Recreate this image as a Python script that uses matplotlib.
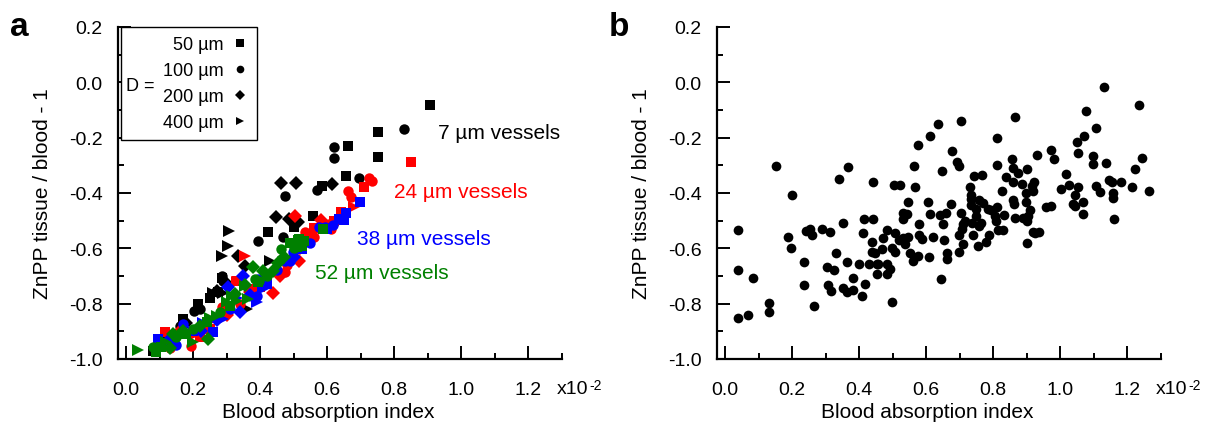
import matplotlib
matplotlib.use("Agg")
import matplotlib.pyplot as plt
from matplotlib.ticker import FixedLocator
from matplotlib.lines import Line2D
from matplotlib.patches import Rectangle

plt.rcParams['font.family'] = ['Liberation Sans', 'DejaVu Sans']

# ---------------- Panel a data (x in units of 1e-2) ----------------
# 7 um vessels (black)
v7_x = [0.906, 0.753, 0.751, 0.661, 0.655, 0.585, 0.558, 0.500, 0.425, 0.287, 0.275, 0.215, 0.170, 0.120, 0.080, 0.250,
        0.830, 0.621, 0.621, 0.695, 0.473, 0.570, 0.467, 0.395, 0.285, 0.290, 0.202, 0.100, 0.220, 0.160,
        0.462, 0.507, 0.615, 0.447, 0.485, 0.513, 0.333, 0.355, 0.270, 0.180, 0.300,
        0.307, 0.303, 0.287, 0.430, 0.362, 0.290, 0.140, 0.260]
v7_y = [-0.081, -0.179, -0.271, -0.231, -0.338, -0.374, -0.482, -0.522, -0.542, -0.708, -0.759, -0.801, -0.855, -0.920, -0.970, -0.780,
        -0.169, -0.235, -0.275, -0.347, -0.410, -0.389, -0.560, -0.572, -0.699, -0.717, -0.825, -0.950, -0.820, -0.880,
        -0.365, -0.363, -0.368, -0.488, -0.494, -0.506, -0.629, -0.663, -0.753, -0.870, -0.730,
        -0.538, -0.593, -0.629, -0.645, -0.819, -0.760, -0.930, -0.760]
v7_D = [50] * 16 + [100] * 14 + [200] * 11 + [400] * 8

# 24 um vessels (red)
v24_x = [0.850, 0.710, 0.560, 0.540, 0.640, 0.330, 0.375, 0.115, 0.220, 0.250, 0.400, 0.620,
         0.725, 0.733, 0.663, 0.671, 0.613, 0.473, 0.535, 0.605, 0.285, 0.195, 0.130, 0.340, 0.480, 0.560,
         0.503, 0.583, 0.515, 0.437, 0.370, 0.160, 0.090, 0.300, 0.460, 0.520,
         0.355, 0.330, 0.260, 0.120, 0.210, 0.680]
v24_y = [-0.287, -0.379, -0.527, -0.554, -0.470, -0.717, -0.747, -0.904, -0.922, -0.890, -0.740, -0.500,
         -0.346, -0.358, -0.394, -0.413, -0.530, -0.687, -0.542, -0.512, -0.813, -0.952, -0.960, -0.800, -0.660, -0.560,
         -0.484, -0.498, -0.645, -0.763, -0.759, -0.900, -0.960, -0.840, -0.700, -0.600,
         -0.629, -0.723, -0.860, -0.950, -0.910, -0.450]
v24_D = [50] * 12 + [100] * 14 + [200] * 10 + [400] * 6

# 38 um vessels (blue)
v38_x = [0.697, 0.657, 0.650, 0.635, 0.525, 0.095, 0.260, 0.200, 0.420, 0.600,
         0.617, 0.575, 0.595, 0.497, 0.490, 0.475, 0.390, 0.395, 0.170, 0.150, 0.110, 0.310, 0.450, 0.550,
         0.350, 0.305, 0.225, 0.125, 0.340, 0.270, 0.370, 0.500,
         0.290, 0.390, 0.410, 0.180, 0.230, 0.330]
v38_y = [-0.434, -0.473, -0.498, -0.494, -0.602, -0.928, -0.904, -0.900, -0.730, -0.530,
         -0.515, -0.524, -0.524, -0.614, -0.645, -0.645, -0.771, -0.711, -0.874, -0.950, -0.950, -0.820, -0.680, -0.580,
         -0.699, -0.741, -0.898, -0.934, -0.831, -0.860, -0.770, -0.630,
         -0.855, -0.795, -0.747, -0.900, -0.870, -0.780]
v38_D = [50] * 10 + [100] * 14 + [200] * 8 + [400] * 6

# 52 um vessels (green)
v52_x = [0.587, 0.513, 0.530, 0.515, 0.525, 0.510, 0.395, 0.105, 0.240, 0.090, 0.180, 0.310, 0.490,
         0.463, 0.397, 0.385, 0.200, 0.080, 0.150, 0.280, 0.420, 0.500,
         0.453, 0.437, 0.410, 0.380, 0.355, 0.140, 0.170, 0.245, 0.325, 0.130, 0.220, 0.470,
         0.315, 0.365, 0.035, 0.270, 0.300, 0.355, 0.200, 0.120, 0.250, 0.330]
v52_y = [-0.530, -0.570, -0.572, -0.566, -0.590, -0.596, -0.723, -0.958, -0.867, -0.975, -0.910, -0.810, -0.580,
         -0.602, -0.717, -0.711, -0.892, -0.958, -0.920, -0.830, -0.700, -0.600,
         -0.653, -0.681, -0.681, -0.669, -0.733, -0.910, -0.898, -0.928, -0.765, -0.960, -0.880, -0.630,
         -0.771, -0.783, -0.966, -0.844, -0.795, -0.735, -0.940, -0.940, -0.850, -0.790]
v52_D = [50] * 13 + [100] * 9 + [200] * 12 + [400] * 10

vessel_labels = ["7 µm vessels", "24 µm vessels", "38 µm vessels", "52 µm vessels"]
D_values = [50, 100, 200, 400]
D_labels = ["50 µm", "100 µm", "200 µm", "400 µm"]

# ---------------- Panel b data ----------------
b_x = [0.040, 0.040, 0.040, 0.067, 0.083, 0.132, 0.132, 0.151, 0.187, 0.196, 0.199, 0.236, 0.236, 0.242,
       0.253, 0.260, 0.265, 0.290, 0.303, 0.306, 0.313, 0.315, 0.325, 0.331, 0.341, 0.351, 0.351, 0.363,
       0.363, 0.367, 0.381, 0.383, 0.401, 0.408, 0.411, 0.416, 0.417, 0.429, 0.437, 0.440, 0.440, 0.437,
       0.447, 0.452, 0.452, 0.457, 0.467, 0.470, 0.482, 0.482, 0.482, 0.492, 0.498, 0.498, 0.504, 0.507,
       0.507, 0.520, 0.522, 0.532, 0.532, 0.532, 0.537, 0.542, 0.547, 0.547, 0.552, 0.562, 0.564, 0.567,
       0.575, 0.577, 0.578, 0.580, 0.587, 0.607, 0.609, 0.611, 0.611, 0.621, 0.636, 0.641, 0.645, 0.647,
       0.651, 0.653, 0.659, 0.661, 0.663, 0.673, 0.677, 0.691, 0.699, 0.697, 0.697, 0.703, 0.704, 0.706,
       0.711, 0.711, 0.716, 0.731, 0.733, 0.735, 0.735, 0.738, 0.741, 0.743, 0.748, 0.750, 0.755, 0.758,
       0.758, 0.765, 0.768, 0.770, 0.780, 0.785, 0.788, 0.795, 0.805, 0.808, 0.810, 0.810, 0.810, 0.815,
       0.827, 0.830, 0.832, 0.838, 0.857, 0.858, 0.860, 0.860, 0.862, 0.865, 0.865, 0.875, 0.885, 0.888,
       0.898, 0.898, 0.900, 0.900, 0.902, 0.905, 0.910, 0.915, 0.918, 0.920, 0.922, 0.925, 0.932, 0.937,
       0.958, 0.972, 0.974, 0.981, 1.001, 1.016, 1.027, 1.039, 1.044, 1.044, 1.049, 1.052, 1.054, 1.067,
       1.069, 1.071, 1.076, 1.099, 1.099, 1.106, 1.106, 1.120, 1.131, 1.136, 1.146, 1.156, 1.158, 1.158,
       1.161, 1.183, 1.215, 1.222, 1.235, 1.245, 1.265]
b_y = [-0.535, -0.679, -0.851, -0.842, -0.709, -0.797, -0.830, -0.301, -0.558, -0.599, -0.408, -0.650, -0.734, -0.537,
       -0.531, -0.550, -0.810, -0.531, -0.668, -0.733, -0.542, -0.755, -0.680, -0.616, -0.350, -0.507, -0.745, -0.650,
       -0.758, -0.307, -0.709, -0.751, -0.658, -0.773, -0.543, -0.493, -0.728, -0.658, -0.576, -0.360, -0.493, -0.614,
       -0.618, -0.658, -0.691, -0.656, -0.604, -0.562, -0.535, -0.694, -0.656, -0.676, -0.795, -0.598, -0.372, -0.543,
       -0.614, -0.570, -0.372, -0.562, -0.495, -0.473, -0.585, -0.475, -0.558, -0.432, -0.616, -0.646, -0.301, -0.377,
       -0.628, -0.227, -0.511, -0.552, -0.568, -0.432, -0.632, -0.477, -0.193, -0.558, -0.151, -0.481, -0.710, -0.320,
       -0.513, -0.570, -0.473, -0.616, -0.638, -0.441, -0.248, -0.287, -0.302, -0.614, -0.550, -0.471, -0.139, -0.529,
       -0.585, -0.513, -0.501, -0.377, -0.408, -0.423, -0.444, -0.510, -0.550, -0.338, -0.459, -0.483, -0.592, -0.426,
       -0.519, -0.510, -0.336, -0.435, -0.577, -0.459, -0.552, -0.462, -0.483, -0.501, -0.203, -0.300, -0.451, -0.534,
       -0.393, -0.534, -0.481, -0.341, -0.278, -0.360, -0.311, -0.426, -0.440, -0.124, -0.492, -0.326, -0.368, -0.492,
       -0.401, -0.432, -0.314, -0.501, -0.580, -0.483, -0.462, -0.374, -0.541, -0.393, -0.362, -0.543, -0.263, -0.541,
       -0.449, -0.447, -0.244, -0.278, -0.386, -0.333, -0.372, -0.441, -0.408, -0.447, -0.215, -0.257, -0.380, -0.432,
       -0.477, -0.193, -0.105, -0.268, -0.296, -0.165, -0.374, -0.396, -0.018, -0.293, -0.354, -0.360, -0.401, -0.417,
       -0.495, -0.359, -0.380, -0.312, -0.082, -0.275, -0.393]

x_major = [0.0, 0.2, 0.4, 0.6, 0.8, 1.0, 1.2]
x_labels = ["0.0", "0.2", "0.4", "0.6", "0.8", "1.0", "1.2"]
y_major = [-1.0, -0.8, -0.6, -0.4, -0.2, 0.0, 0.2]
y_labels = ["-1.0", "-0.8", "-0.6", "-0.4", "-0.2", "0.0", "0.2"]

# ---------------- Figure ----------------
W, H = 1207, 427
fig = plt.figure(figsize=(W / 100, H / 100), dpi=100)

ax_a = fig.add_axes([117.7 / W, 1 - 360 / H, 444 / W, 332 / H])
ax_b = fig.add_axes([716.7 / W, 1 - 360 / H, 444 / W, 332 / H])

TICK_FS = 14
LAB_FS = 15
LEG_FS = 13


def style_axes(ax):
    ax.set_xlim(-0.025, 1.30)
    ax.set_ylim(-1.0, 0.2)
    for s in ['top', 'right']:
        ax.spines[s].set_visible(False)
    for s in ['left', 'bottom']:
        ax.spines[s].set_linewidth(1.6)
    ax.xaxis.set_major_locator(FixedLocator(x_major))
    ax.set_xticklabels(x_labels)
    ax.xaxis.set_minor_locator(FixedLocator([0.1, 0.3, 0.5, 0.7, 0.9, 1.1, 1.3]))
    ax.yaxis.set_major_locator(FixedLocator(y_major))
    ax.set_yticklabels(y_labels)
    ax.yaxis.set_minor_locator(FixedLocator([-0.9, -0.7, -0.5, -0.3, -0.1, 0.1]))
    ax.tick_params(which='major', direction='in', length=9.5, width=1.4, labelsize=TICK_FS)
    ax.tick_params(axis='x', which='major', pad=16)
    ax.tick_params(axis='y', which='major', pad=11)
    ax.tick_params(which='minor', direction='in', length=4.5, width=1.4)
    ax.set_xlabel("Blood absorption index", fontsize=LAB_FS)
    ax.set_ylabel("ZnPP tissue / blood - 1", fontsize=LAB_FS)
    ax.xaxis.set_label_coords(0.475, -0.158)
    ax.xaxis.label.set_va('center')
    ax.yaxis.set_label_coords(-0.169, 0.5)
    ax.yaxis.label.set_va('center')
    t = ax.text(0.989, -0.09, "x10", transform=ax.transAxes, fontsize=TICK_FS,
                ha='left', va='center')
    ax.annotate("-2", xy=(1.0, 1.0), xycoords=t, xytext=(0.5, -3), textcoords='offset points',
                fontsize=10, ha='left', va='center')
    ax.patch.set_alpha(0)


style_axes(ax_a)
style_axes(ax_b)

marker_for = {50: 's', 100: 'o', 200: 'D', 400: '>'}
size_for = {50: 6.8, 100: 7.5, 200: 7.3, 400: 8.0}

groups = [(v7_x, v7_y, v7_D, 'black'),
          (v24_x, v24_y, v24_D, '#ff0000'),
          (v38_x, v38_y, v38_D, '#0000ff'),
          (v52_x, v52_y, v52_D, '#008000')]
for gx, gy, gD, col in groups:
    for d in D_values:
        xs = [x for x, dd in zip(gx, gD) if dd == d]
        ys = [y for y, dd in zip(gy, gD) if dd == d]
        ax_a.plot(xs, ys, linestyle='none', marker=marker_for[d], markersize=size_for[d],
                  color=col, markeredgewidth=0, clip_on=False)

# vessel annotations
ann_pos = [(0.93, -0.18), (0.80, -0.396), (0.69, -0.566), (0.564, -0.686)]
for (tx, ty), lab, (_, _, _, col) in zip(ann_pos, vessel_labels, groups):
    ax_a.text(tx, ty, lab, color=col, fontsize=LAB_FS, ha='left', va='center')

# legend: frame drawn as a box, entries right-aligned, "D =" to the left
box = Rectangle((0.007, 0.66), 0.306, 0.34, transform=ax_a.transAxes, fill=True,
                facecolor='white', edgecolor='black', linewidth=1.0, zorder=4, clip_on=False)
ax_a.add_patch(box)
handles = [Line2D([], [], linestyle='none', marker=marker_for[d], color='black',
                  markersize=5.5, markeredgewidth=0) for d in D_values]
leg = ax_a.legend(handles, D_labels, loc='upper right', bbox_to_anchor=(0.313, 1.0),
                  borderaxespad=0, markerfirst=False, fontsize=LEG_FS, frameon=False,
                  handlelength=0.85, handletextpad=0.46, labelspacing=0.5, borderpad=0.5)
leg.set_zorder(6)
ax_a.text(0.019, 0.825, "D =", transform=ax_a.transAxes, fontsize=LEG_FS, ha='left', va='center',
          zorder=10)

# panel b
ax_b.plot(b_x, b_y, linestyle='none', marker='o', markersize=7.0, color='black',
          markeredgewidth=0, clip_on=False)

# panel letters
fig.text(19 / W, 1 - 27 / H, "a", fontsize=24, fontweight='bold', ha='center', va='center')
fig.text(619 / W, 1 - 27 / H, "b", fontsize=24, fontweight='bold', ha='center', va='center')

fig.savefig("out.png", dpi=100)
